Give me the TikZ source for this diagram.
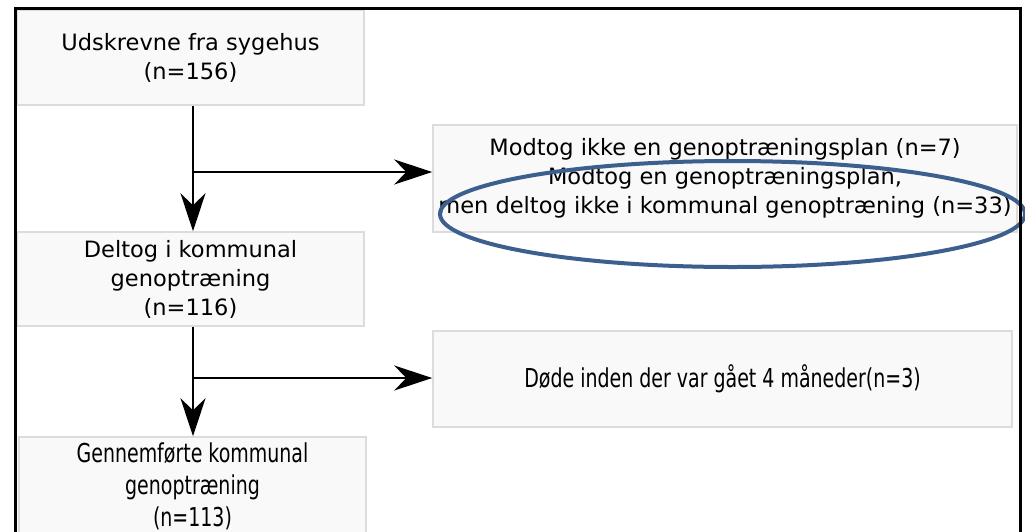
\documentclass[tikz,border=0pt]{standalone}
\usepackage{fontspec}
\setmainfont{DejaVu Sans}
\newfontfamily\smalfont[FakeStretch=0.73]{DejaVu Sans}
\usetikzlibrary{arrows.meta,shapes.geometric}
\definecolor{boxfill}{HTML}{F9F9F9}
\definecolor{boxline}{HTML}{DCDCDC}
\definecolor{ringblue}{HTML}{3C5F8E}

\begin{document}
\begin{tikzpicture}[x=1pt,y=-1pt,>={Stealth[length=38pt,width=25pt,inset=12pt]},
  box/.style={draw=boxline,fill=boxfill,line width=1.5pt,align=center,
    inner sep=0pt,font=\fontsize{22.5}{29}\selectfont},
  smalbox/.style={box,font=\smalfont\fontsize{26}{32}\selectfont}]
  \useasboundingbox (0,0) rectangle (1025,531);

  \node (udskr) at (190.5,57.5) [box,minimum width=347pt,minimum height=95pt] {Udskrevne fra sygehus\\(n=156)} ;
  \node (ikke) at (725,178.5) [box,minimum width=584pt,minimum height=107pt] {Modtog ikke en genoptræningsplan (n=7)\\Modtog en genoptræningsplan,\\men deltog ikke i kommunal genoptræning (n=33)} ;
  \node (delt) at (190.5,279) [box,minimum width=347pt,minimum height=94pt] {Deltog i kommunal\\genoptræning\\(n=116)} ;
  \node (doede) at (722.5,379) [smalbox,minimum width=579pt,minimum height=96pt] {Døde inden der var gået 4 måneder(n=3)} ;
  \node (gennem) at (192.5,486) [smalbox,minimum width=347pt,minimum height=98pt] {Gennemførte kommunal\\genoptræning\\(n=113)} ;

  \coordinate (k1) at (193,172);
  \coordinate (k2) at (193,378);

  \draw [->,line width=2pt] (udskr.south -| k1) -- (delt.north -| k1);
  \draw [->,line width=2pt] (k1) -- (k1 -| ikke.west);
  \draw [->,line width=2pt] (delt.south -| k2) -- (gennem.north -| k2);
  \draw [->,line width=2pt] (k2) -- (k2 -| doede.west);

  \node (ring) at (732.5,214) [draw=ringblue,line width=4pt,ellipse,inner sep=0pt,minimum width=585pt,minimum height=106pt] {} ;

  \draw [line width=3pt] (15,540) -- (15,8) -- (1020,8) -- (1020,540);
\end{tikzpicture}
\end{document}
